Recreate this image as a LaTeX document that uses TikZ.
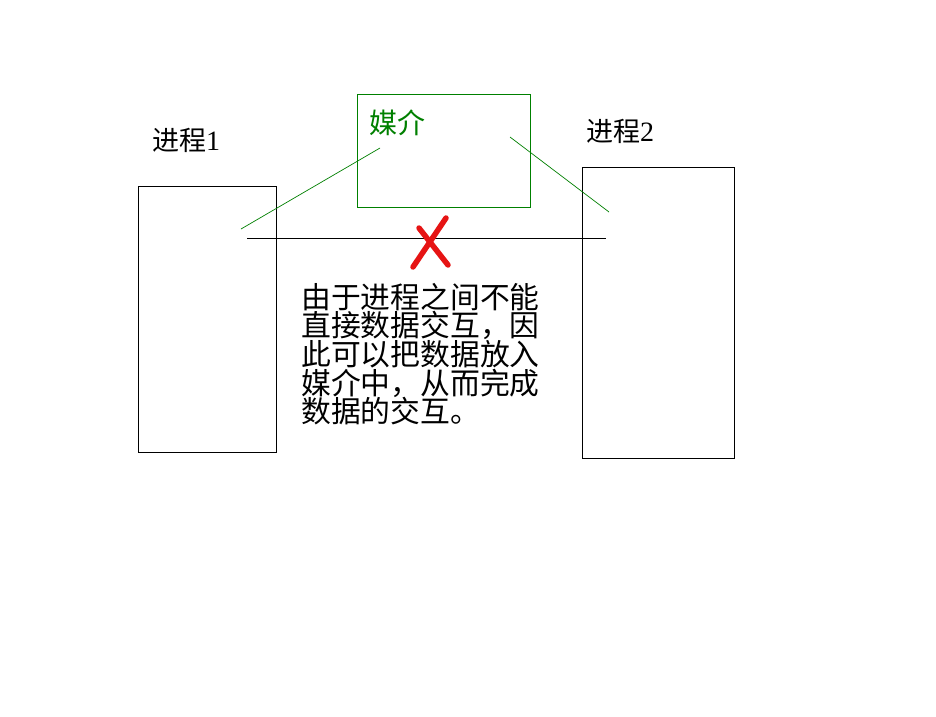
\documentclass[tikz,border=0pt]{standalone}
\usepackage{fontspec}
\newfontfamily\cjk{Noto Sans CJK SC}
\newfontfamily\digitfont{Liberation Serif}
\definecolor{mgreen}{RGB}{0,128,0}
\definecolor{xred}{RGB}{230,20,20}
\begin{document}
\begin{tikzpicture}[x=1pt,y=-1pt,
  proc/.style={draw=black,line width=0.8pt,anchor=north west,inner sep=0pt},
  medium/.style={draw=mgreen,line width=0.8pt,anchor=north west,inner sep=0pt},
  lbl/.style={inner sep=0pt,font=\cjk\fontsize{27}{27}\selectfont},
  link/.style={mgreen,line width=0.7pt},
  cross/.style={xred,line width=5.5pt,line cap=round}]
\useasboundingbox (0,0) rectangle (936,716);
\fill[white] (0,0) rectangle (936,716);
% boxes
\node[proc,minimum width=138pt,minimum height=266pt] (p1) at (138,186) {};
\node[proc,minimum width=152pt,minimum height=291pt] (p2) at (582,167) {};
\node[medium,minimum width=173pt,minimum height=113pt] (m) at (357,94) {};
% labels
\node[lbl] (l1) at (186,140) {进程{\digitfont\fontsize{28}{28}\selectfont 1}};
\node[lbl] (l2) at (620,131) {进程{\digitfont\fontsize{28}{28}\selectfont 2}};
\node[lbl,text=mgreen,font=\cjk\fontsize{28}{28}\selectfont] (lm) at (397,123) {媒介};
% green links
\coordinate (a1) at (241,229);
\coordinate (a2) at (380,148);
\coordinate (b1) at (510,137);
\coordinate (b2) at (609,212);
\draw[link] (a1) -- (a2);
\draw[link] (b1) -- (b2);
% black direct line
\coordinate (d1) at (247,238);
\coordinate (d2) at (606,238);
\draw[line width=0.8pt] (d1) -- (d2);
% red cross
\coordinate (x1) at (446,218);
\coordinate (x2) at (413,267);
\coordinate (x3) at (419,228);
\coordinate (x4) at (448,265);
\draw[cross] (x1) -- (x2);
\draw[cross] (x3) -- (x4);
% text
\node[anchor=north west,inner sep=0pt,align=left,font=\cjk\fontsize{29.8}{28.6}\selectfont] (t) at (301,283)
{由于进程之间不能\\直接数据交互，因\\此可以把数据放入\\媒介中，从而完成\\数据的交互。};
\end{tikzpicture}
\end{document}
